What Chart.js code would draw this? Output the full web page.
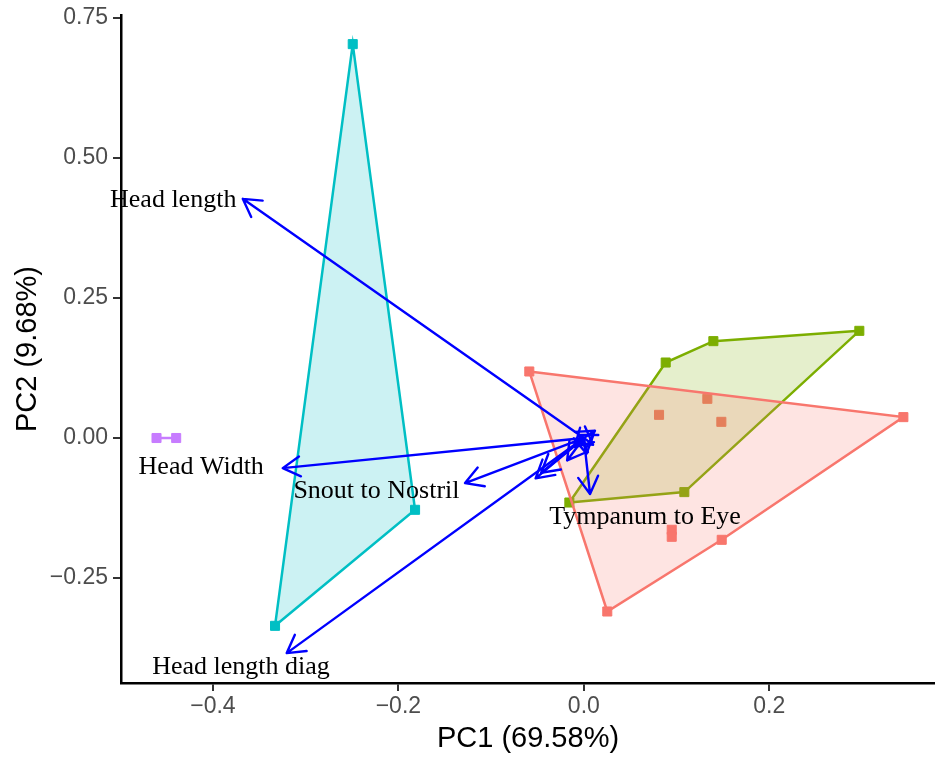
<!DOCTYPE html>
<html>
<head>
<meta charset="utf-8">
<title>PCA biplot</title>
<script src="https://cdn.jsdelivr.net/npm/chart.js@4.4.1/dist/chart.umd.min.js"></script>
<style>
    body { margin: 0; background: #ffffff; }
    canvas { display: block; }
</style>
</head>
<body>
<canvas id="biplot" width="935" height="758"></canvas>
<script>
// individual scores (PC1, PC2) for each group
var redX = [-0.0588, 0.3446, 0.1487, 0.0253, 0.0811, 0.1332, 0.1483, 0.0948, 0.0948];
var redY = [0.1188, 0.0373, -0.1818, -0.3098, 0.0414, 0.0700, 0.0289, -0.1639, -0.1764];

var greenX = [-0.0156, 0.0883, 0.1397, 0.2971, 0.1084];
var greenY = [-0.1152, 0.1348, 0.1730, 0.1914, -0.0966];

var cyanX = [-0.2492, -0.1820, -0.3330];
var cyanY = [0.7034, -0.1282, -0.3354];

var purpleX = [-0.4608, -0.4396];
var purpleY = [0.0, 0.0];

// variable loadings (arrow tips), only some of them carry a label
var varNames = ['Head length', 'Head Width', 'Snout to Nostril', 'Head length diag', 'Tympanum to Eye',
    '', '', '', '', '', '', '', ''];
var loadX = [-0.3678, -0.3247, -0.1281, -0.3204, 0.0067, 0.012, 0.010, -0.006, -0.010, 0.003, -0.052, -0.046, -0.018];
var loadY = [0.4271, -0.0538, -0.0805, -0.3841, -0.100, 0.013, -0.012, 0.006, -0.016, -0.028, -0.072, -0.062, -0.040];

// where the variable names sit (centre x, baseline y)
var labelX = [-0.4428, -0.4126, -0.2236, -0.3697, 0.0660];
var labelY = [0.4129, -0.0639, -0.1068, -0.4211, -0.1539];

var xTicks = [-0.4, -0.2, 0.0, 0.2];
var xTickLabels = ['\u22120.4', '\u22120.2', '0.0', '0.2'];
var yTicks = [-0.25, 0.0, 0.25, 0.5, 0.75];
var yTickLabels = ['\u22120.25', '0.00', '0.25', '0.50', '0.75'];

// monotone chain convex hull, returned closed
function hullOf(xs, ys) {
    var pts = xs.map(function (x, i) { return { x: x, y: ys[i] }; });
    pts.sort(function (a, b) { return a.x - b.x || a.y - b.y; });
    if (pts.length < 3) return pts;
    function cross(o, a, b) { return (a.x - o.x) * (b.y - o.y) - (a.y - o.y) * (b.x - o.x); }
    var lower = [], upper = [];
    for (var i = 0; i < pts.length; i++) {
        while (lower.length >= 2 && cross(lower[lower.length - 2], lower[lower.length - 1], pts[i]) <= 0) lower.pop();
        lower.push(pts[i]);
    }
    for (var j = pts.length - 1; j >= 0; j--) {
        while (upper.length >= 2 && cross(upper[upper.length - 2], upper[upper.length - 1], pts[j]) <= 0) upper.pop();
        upper.push(pts[j]);
    }
    lower.pop();
    upper.pop();
    var h = lower.concat(upper);
    h.push(h[0]);
    return h;
}

function groupSets(name, color, fill, xs, ys) {
    var pts = xs.map(function (x, i) { return { x: x, y: ys[i] }; });
    return [{
        type: 'scatter',
        label: name,
        data: pts,
        pointStyle: 'rect',
        pointRadius: 6.4,
        backgroundColor: color,
        borderColor: color,
        borderWidth: 1,
        order: 2
    }, {
        type: 'line',
        label: name + ' hull',
        data: hullOf(xs, ys),
        borderColor: color,
        borderWidth: 2.5,
        backgroundColor: fill,
        fill: 'shape',
        pointRadius: 0,
        tension: 0,
        order: 1
    }];
}

var datasets = [].concat(
    groupSets('A', '#F8766D', 'rgba(248,118,109,0.2)', redX, redY),
    groupSets('B', '#7CAE00', 'rgba(124,174,0,0.2)', greenX, greenY),
    groupSets('C', '#00BFC4', 'rgba(0,191,196,0.2)', cyanX, cyanY),
    groupSets('D', '#C77CFF', 'rgba(199,124,255,0.2)', purpleX, purpleY)
);

// arrows from the origin to each loading, plus their names
var loadingsPlugin = {
    id: 'loadings',
    afterDatasetsDraw: function (chart) {
        var ctx = chart.ctx;
        var xs = chart.scales.x, ys = chart.scales.y;
        var x0 = xs.getPixelForValue(0), y0 = ys.getPixelForValue(0);
        var head = 20, spread = Math.PI / 6;

        ctx.save();
        ctx.strokeStyle = '#0000FF';
        ctx.lineWidth = 2.4;
        ctx.lineCap = 'round';
        ctx.lineJoin = 'round';
        for (var i = 0; i < loadX.length; i++) {
            var x1 = xs.getPixelForValue(loadX[i]);
            var y1 = ys.getPixelForValue(loadY[i]);
            var a = Math.atan2(y1 - y0, x1 - x0);
            ctx.beginPath();
            ctx.moveTo(x0, y0);
            ctx.lineTo(x1, y1);
            ctx.moveTo(x1 - head * Math.cos(a - spread), y1 - head * Math.sin(a - spread));
            ctx.lineTo(x1, y1);
            ctx.lineTo(x1 - head * Math.cos(a + spread), y1 - head * Math.sin(a + spread));
            ctx.stroke();
        }

        ctx.fillStyle = '#000000';
        ctx.font = '26px "Liberation Serif", "Times New Roman", serif';
        ctx.textAlign = 'center';
        ctx.textBaseline = 'alphabetic';
        for (var k = 0; k < labelX.length; k++) {
            if (!varNames[k]) continue;
            ctx.fillText(varNames[k], xs.getPixelForValue(labelX[k]), ys.getPixelForValue(labelY[k]));
        }
        ctx.restore();
    }
};

var tickFont = { family: '"Liberation Sans", Arial, sans-serif', size: 23 };
var titleFont = { family: '"Liberation Sans", Arial, sans-serif', size: 29 };

new Chart(document.getElementById('biplot'), {
    type: 'scatter',
    data: { datasets: datasets },
    options: {
        responsive: false,
        animation: false,
        layout: { autoPadding: false, padding: { top: 15, right: 0, bottom: 0, left: 0 } },
        plugins: {
            legend: { display: false },
            tooltip: { enabled: false }
        },
        scales: {
            x: {
                type: 'linear',
                min: -0.4991,
                max: 0.3787,
                afterBuildTicks: function (scale) {
                    scale.ticks = xTicks.map(function (v) { return { value: v }; });
                },
                afterFit: function (scale) {
                    scale.height = 75;
                    scale.paddingLeft = 0;
                    scale.paddingRight = 0;
                },
                ticks: {
                    autoSkip: false,
                    maxRotation: 0,
                    padding: 2,
                    color: '#4D4D4D',
                    font: tickFont,
                    callback: function (value, index) { return xTickLabels[index]; }
                },
                grid: { display: true, drawOnChartArea: false, drawTicks: true, tickLength: 8, color: '#333333', lineWidth: 2 },
                border: { display: true, color: '#000000', width: 2.5 },
                title: { display: true, text: 'PC1 (69.58%)', color: '#000000', font: titleFont, padding: { top: 0, bottom: 2 } }
            },
            y: {
                type: 'linear',
                min: -0.4375,
                max: 0.7554,
                afterBuildTicks: function (scale) {
                    scale.ticks = yTicks.map(function (v) { return { value: v }; });
                },
                afterFit: function (scale) {
                    scale.width = 121;
                    scale.paddingTop = 0;
                    scale.paddingBottom = 0;
                },
                ticks: {
                    autoSkip: false,
                    padding: 5,
                    color: '#4D4D4D',
                    font: tickFont,
                    callback: function (value, index) { return yTickLabels[index]; }
                },
                grid: { display: true, drawOnChartArea: false, drawTicks: true, tickLength: 8, color: '#333333', lineWidth: 2 },
                border: { display: true, color: '#000000', width: 2.5 },
                title: { display: true, text: 'PC2 (9.68%)', color: '#000000', font: titleFont, padding: { top: 11, bottom: 0 } }
            }
        }
    },
    plugins: [loadingsPlugin]
});
</script>
</body>
</html>
